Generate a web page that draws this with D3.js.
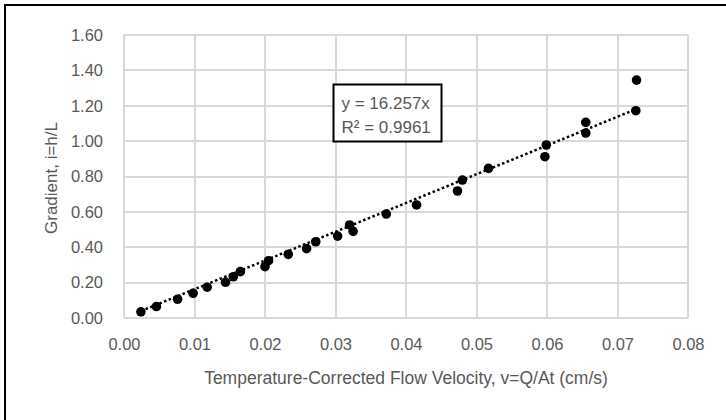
<!DOCTYPE html>
<head>
<meta charset="utf-8">
<script src="https://d3js.org/d3.v7.min.js"></script>

<style>

body {
	margin: 0;
	background: #fff;
}
text {
	font-family: "Liberation Sans", Arial, sans-serif;
	fill: #595959;
}
.grid line {
	stroke: #d9d9d9;
	stroke-width: 2px;
	shape-rendering: crispEdges;
}
.axis path, .axis line {
	display: none;
}
.dot {
	fill: #000;
}
.trend {
	fill: none;
	stroke: #000;
	stroke-width: 2.5px;
	stroke-dasharray: 2.5,2.5;
}

</style>

</head>

<body>

<svg id="chart" width="726" height="420"></svg>

<script>

// velocity (cm/s) and gradient
var velocity = [0.0024, 0.0046, 0.0076, 0.0098, 0.0118, 0.0144, 0.0155, 0.0165, 0.0200, 0.0205,
	0.0233, 0.0259, 0.0272, 0.0303, 0.0320, 0.0325, 0.0372, 0.0415, 0.0473, 0.0480,
	0.0517, 0.0597, 0.0599, 0.0655, 0.0655, 0.0726, 0.0727];
var gradient = [0.035, 0.065, 0.106, 0.140, 0.174, 0.202, 0.233, 0.262, 0.290, 0.324,
	0.360, 0.392, 0.431, 0.463, 0.526, 0.490, 0.588, 0.639, 0.718, 0.780,
	0.846, 0.912, 0.978, 1.046, 1.106, 1.172, 1.345];

var xTicks = [0, 0.01, 0.02, 0.03, 0.04, 0.05, 0.06, 0.07, 0.08];
var yTicks = [0, 0.2, 0.4, 0.6, 0.8, 1.0, 1.2, 1.4, 1.6];

var slope = 16.257;
var eqLines = ["y = 16.257x", "R\u00b2 = 0.9961"];

var xLabel = "Temperature-Corrected Flow Velocity, v=Q/At (cm/s)";
var yLabel = "Gradient, i=h/L";

var svg = d3.select("#chart");

var x = d3.scaleLinear().domain([0, 0.08]).range([124, 688]);
var y = d3.scaleLinear().domain([0, 1.6]).range([318, 35]);

// outer chart frame (runs past the right and bottom edge)
svg.append("rect")
	.attr("x", 5).attr("y", 5)
	.attr("width", 760).attr("height", 460)
	.attr("fill", "none")
	.attr("stroke", "#000")
	.attr("stroke-width", 2);

svg.append("g")
	.attr("class", "grid")
	.selectAll("line.h")
	.data(yTicks)
	.enter().append("line")
	.attr("x1", x(0)).attr("x2", x(0.08))
	.attr("y1", d => y(d)).attr("y2", d => y(d));

svg.select(".grid")
	.selectAll("line.v")
	.data(xTicks)
	.enter().append("line")
	.attr("x1", d => x(d)).attr("x2", d => x(d))
	.attr("y1", y(0)).attr("y2", y(1.6));

svg.append("g")
	.attr("class", "axis")
	.attr("transform", "translate(0," + y(0) + ")")
	.call(d3.axisBottom(x).tickValues(xTicks).tickFormat(d3.format(".2f")).tickSize(0).tickPadding(20))
	.selectAll("text")
	.attr("font-size", 16.5);

svg.append("g")
	.attr("class", "axis")
	.attr("transform", "translate(" + x(0) + ",0)")
	.call(d3.axisLeft(y).tickValues(yTicks).tickFormat(d3.format(".2f")).tickSize(0).tickPadding(21))
	.selectAll("text")
	.attr("font-size", 16.5);

svg.selectAll(".axis text").style("fill", "#595959").attr("font-family", null);

// trendline through origin
var xr = d3.extent(velocity);
svg.append("line")
	.attr("class", "trend")
	.attr("x1", x(xr[0])).attr("y1", y(slope * xr[0]))
	.attr("x2", x(xr[1])).attr("y2", y(slope * xr[1]));

svg.append("g")
	.selectAll("circle")
	.data(velocity)
	.enter().append("circle")
	.attr("class", "dot")
	.attr("cx", d => x(d))
	.attr("cy", (d, i) => y(gradient[i]))
	.attr("r", 4.8);

// equation box
var eq = svg.append("g").attr("transform", "translate(333.5,84.5)");
eq.append("rect")
	.attr("width", 108).attr("height", 57)
	.attr("fill", "#fff")
	.attr("stroke", "#000")
	.attr("stroke-width", 2);
eq.selectAll("text")
	.data(eqLines)
	.enter().append("text")
	.attr("x", 8)
	.attr("y", (d, i) => 24 + i * 24)
	.attr("font-size", 17)
	.text(d => d);

svg.append("text")
	.attr("x", 406)
	.attr("y", 384)
	.attr("text-anchor", "middle")
	.attr("font-size", 17.5)
	.text(xLabel);

svg.append("text")
	.attr("transform", "translate(57,178) rotate(-90)")
	.attr("text-anchor", "middle")
	.attr("font-size", 17)
	.text(yLabel);

</script>

</body>
